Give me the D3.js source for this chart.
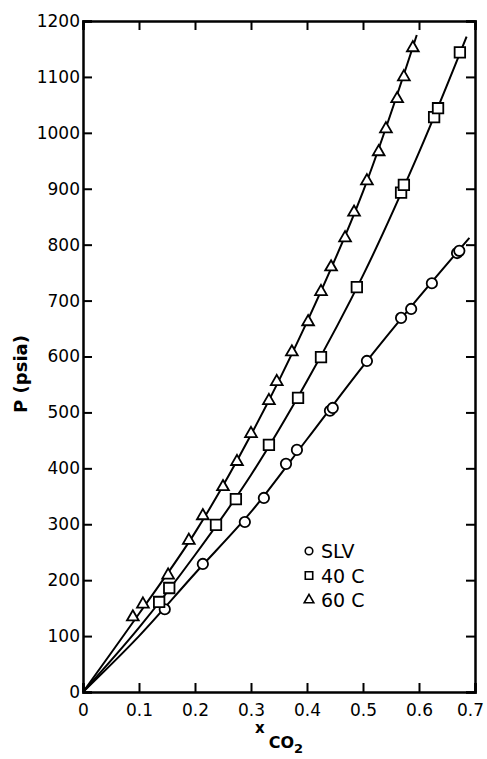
<!DOCTYPE html>
<html>
<head>
<meta charset="utf-8">
<script src="https://cdn.jsdelivr.net/npm/d3@7"></script>
<style>
  body { margin: 0; background: #fff; }
  svg text { font-family: "DejaVu Sans", sans-serif; fill: #000; }
</style>
</head>
<body>
<div id="chart"></div>
<script>
// measured points (x CO2, P psia)
var slvPoints = [[0.146, 148], [0.214, 229], [0.289, 304], [0.323, 347], [0.3625, 408],
    [0.382, 433], [0.441, 503], [0.446, 508], [0.507, 592], [0.568, 669], [0.586, 685],
    [0.623, 731], [0.668, 785], [0.672, 789]];
var c40Points = [[0.136, 161], [0.154, 186], [0.2375, 299], [0.273, 345], [0.332, 442],
    [0.384, 526], [0.425, 599], [0.489, 724], [0.568, 893], [0.573, 907], [0.627, 1028],
    [0.634, 1044], [0.673, 1144]];
var c60Points = [[0.089, 134], [0.107, 157], [0.152, 209], [0.189, 271], [0.214, 315],
    [0.25, 367], [0.275, 412], [0.300, 462], [0.332, 521], [0.346, 555], [0.373, 608],
    [0.402, 662], [0.425, 716], [0.443, 760], [0.468, 812], [0.484, 858], [0.507, 914],
    [0.528, 966], [0.541, 1007], [0.561, 1061], [0.573, 1100], [0.589, 1152]];

// smooth fitted curves
var slvCurve = [[0, 0], [0.1, 100], [0.2, 212], [0.3, 322], [0.4, 452], [0.5, 583], [0.6, 706], [0.69, 812]];
var c40Curve = [[0, 0], [0.1, 115], [0.2, 245], [0.3, 388], [0.4, 556], [0.5, 745], [0.6, 965], [0.685, 1172]];
var c60Curve = [[0, 0], [0.1, 140], [0.2, 285], [0.3, 460], [0.4, 662], [0.5, 895], [0.596, 1175]];

var xTicks = [0, 0.1, 0.2, 0.3, 0.4, 0.5, 0.6, 0.7];
var yTicks = [0, 100, 200, 300, 400, 500, 600, 700, 800, 900, 1000, 1100, 1200];
var legendLabels = ['SLV', '40 C', '60 C'];

var w = 487, h = 759;
var mLeft = 83, mRight = 475, mTop = 21, mBottom = 692;

var svg = d3.select('#chart').append('svg')
    .attr('width', w)
    .attr('height', h);

var xscale = d3.scaleLinear().domain([0, 0.7]).range([mLeft, mRight]);
var yscale = d3.scaleLinear().domain([0, 1200]).range([mBottom, mTop]);

var fmtX = function (d) { return d === 0 ? '0' : d3.format('.1f')(d); };

// axes, ticks pointing inward
var xAxis = d3.axisBottom(xscale).tickValues(xTicks).tickSize(-9).tickPadding(12).tickFormat(fmtX);
var yAxis = d3.axisLeft(yscale).tickValues(yTicks).tickSize(-9).tickPadding(3).tickFormat(d3.format('d'));
var xTop = d3.axisTop(xscale).tickValues(xTicks).tickSize(-9).tickFormat('');
var yRight = d3.axisRight(yscale).tickValues(yTicks).tickSize(-9).tickFormat('');

var xg = svg.append('g').attr('class', 'axis').attr('transform', 'translate(0,' + mBottom + ')').call(xAxis);
svg.append('g').attr('class', 'axis').attr('transform', 'translate(' + mLeft + ',0)').call(yAxis);
svg.append('g').attr('class', 'axis').attr('transform', 'translate(0,' + mTop + ')').call(xTop);
svg.append('g').attr('class', 'axis').attr('transform', 'translate(' + mRight + ',0)').call(yRight);

svg.selectAll('.axis path').attr('stroke', '#000').attr('stroke-width', 2.5);
svg.selectAll('.axis line').attr('stroke', '#000').attr('stroke-width', 2);
svg.selectAll('.axis text')
    .attr('font-size', '17px')
    .attr('font-family', '"DejaVu Sans", sans-serif')
    .attr('fill', '#000');

// last x label sits a little left so it stays inside the page
xg.selectAll('.tick text').filter(function (d) { return d === 0.7; }).attr('dx', -5);

// curves
var line = d3.line()
    .x(function (d) { return xscale(d[0]); })
    .y(function (d) { return yscale(d[1]); })
    .curve(d3.curveCatmullRom);

[slvCurve, c40Curve, c60Curve].forEach(function (c) {
    svg.append('path')
        .attr('d', line(c))
        .attr('fill', 'none')
        .attr('stroke', '#000')
        .attr('stroke-width', 2);
});

var sym = {
    circle: d3.symbol().type(d3.symbolCircle),
    square: d3.symbol().type(d3.symbolSquare),
    triangle: d3.symbol().type(d3.symbolTriangle)
};

function drawPoints(data, type, size) {
    svg.append('g').selectAll('path')
        .data(data)
        .enter()
        .append('path')
        .attr('d', sym[type].size(size)())
        .attr('transform', function (d) {
            return 'translate(' + xscale(d[0]) + ',' + yscale(d[1]) + ')';
        })
        .attr('fill', '#fff')
        .attr('stroke', '#000')
        .attr('stroke-width', 1.8);
}

drawPoints(slvPoints, 'circle', 85);
drawPoints(c40Points, 'square', 110);
drawPoints(c60Points, 'triangle', 60);

// legend
var legendTypes = ['circle', 'square', 'triangle'];
var legendSizes = [45, 55, 40];
var lg = svg.append('g');
legendLabels.forEach(function (t, i) {
    var y = 551 + i * 24.5;
    lg.append('path')
        .attr('d', sym[legendTypes[i]].size(legendSizes[i])())
        .attr('transform', 'translate(309,' + y + ')')
        .attr('fill', '#fff')
        .attr('stroke', '#000')
        .attr('stroke-width', 1.6);
    lg.append('text')
        .attr('x', 321)
        .attr('y', y + 7)
        .attr('font-size', '19px')
        .text(t);
});

// axis titles
svg.append('text')
    .attr('transform', 'translate(27,374) rotate(-90)')
    .attr('text-anchor', 'middle')
    .attr('font-size', '18px')
    .attr('font-weight', 'bold')
    .text('P (psia)');

var xt = svg.append('text').attr('x', 255).attr('y', 733).attr('font-size', '15px').attr('font-weight', 'bold');
xt.append('tspan').text('x');
xt.append('tspan').attr('dx', 4).attr('dy', 15).attr('font-size', '16px').text('CO');
xt.append('tspan').attr('dy', 5).attr('font-size', '13px').text('2');
</script>
</body>
</html>
